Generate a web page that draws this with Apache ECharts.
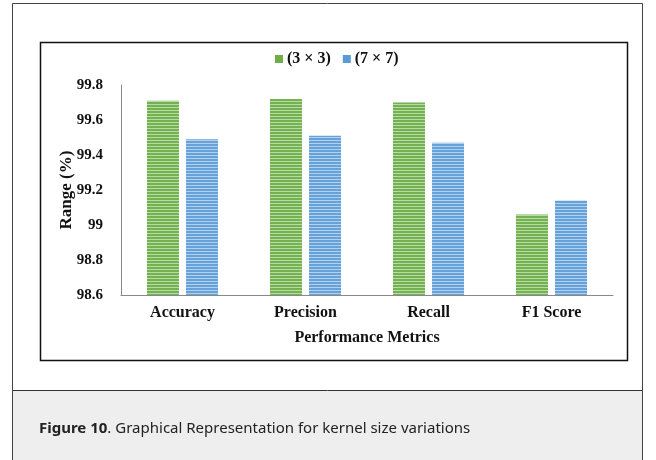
<!DOCTYPE html>
<html>
<head>
<meta charset="utf-8">
<script src="https://cdn.jsdelivr.net/npm/echarts@6/dist/echarts.min.js"></script>
<style>
  html, body { margin: 0; padding: 0; background: #ffffff; }
  #chart { width: 656px; height: 460px; }
</style>
</head>
<body>
<div id="chart"></div>
<script>
// Metrics compared for the two kernel sizes
const categories = ['Accuracy', 'Precision', 'Recall', 'F1 Score'];
const seriesNames = ['(3 × 3)', '(7 × 7)'];
const kernel3 = [99.71, 99.72, 99.70, 99.06];
const kernel7 = [99.49, 99.51, 99.47, 99.14];
const yTicks = [98.6, 98.8, 99, 99.2, 99.4, 99.6, 99.8];

// Horizontal-line fill used for the bars
function stripes(dark, light) {
  const c = document.createElement('canvas');
  c.width = 4; c.height = 3;
  const g = c.getContext('2d');
  g.fillStyle = light; g.fillRect(0, 0, 4, 3);
  g.fillStyle = dark; g.fillRect(0, 0, 4, 2);
  return { image: c, repeat: 'repeat' };
}

const serif = '"Liberation Serif", "Times New Roman", serif';
const sans = '"Noto Sans", "Open Sans", sans-serif';
const chart = echarts.init(document.getElementById('chart'), null, { renderer: 'canvas' });

chart.setOption({
  animation: false,
  backgroundColor: '#ffffff',
  graphic: [
    // caption band
    { type: 'rect', shape: { x: 12.5, y: 390.5, width: 630, height: 80 },
      style: { fill: '#eeeeee', stroke: '#333333', lineWidth: 1 }, z: 0 },
    // outer frame
    { type: 'polyline', shape: { points: [[12.5, 470], [12.5, 3.5], [642.5, 3.5], [642.5, 470]] },
      style: { fill: null, stroke: '#444444', lineWidth: 1 }, z: 1 },
    // chart frame
    { type: 'rect', shape: { x: 40.5, y: 42.5, width: 587, height: 318 },
      style: { fill: null, stroke: '#111111', lineWidth: 1.5 }, z: 1 },
    { type: 'text', left: 39, top: 421, z: 2,
      style: {
        text: '{b|Figure 10}{r|. Graphical Representation for kernel size variations}',
        rich: {
          b: { fontFamily: sans, fontWeight: 'bold', fontSize: 15, fill: '#222222' },
          r: { fontFamily: sans, fontSize: 15, fill: '#222222' }
        }
      }
    }
  ],
  legend: {
    left: 270, top: 46,
    itemWidth: 8, itemHeight: 8, itemGap: 12,
    icon: 'rect',
    textStyle: { fontFamily: serif, fontWeight: 'bold', fontSize: 16, color: '#111111', padding: [0, 0, 0, -1] },
    data: [
      { name: seriesNames[0], itemStyle: { color: '#70ad47' } },
      { name: seriesNames[1], itemStyle: { color: '#5b9bd5' } }
    ]
  },
  grid: { left: 121, right: 43, top: 85, bottom: 165, containLabel: false },
  xAxis: {
    type: 'category',
    data: categories,
    name: 'Performance Metrics',
    nameLocation: 'middle',
    nameGap: 35,
    nameMoveOverlap: false,
    nameTextStyle: { fontFamily: serif, fontWeight: 'bold', fontSize: 16, color: '#111111' },
    axisLine: { lineStyle: { color: '#888888', width: 1 } },
    axisTick: { show: false },
    axisLabel: { fontFamily: serif, fontWeight: 'bold', fontSize: 16, color: '#111111', margin: 10 }
  },
  yAxis: {
    type: 'value',
    min: yTicks[0],
    max: yTicks[yTicks.length - 1],
    interval: 0.2,
    name: 'Range (%)',
    nameLocation: 'middle',
    nameGap: 46,
    nameMoveOverlap: false,
    nameTextStyle: { fontFamily: serif, fontWeight: 'bold', fontSize: 17, color: '#111111' },
    axisLine: { show: true, lineStyle: { color: '#888888', width: 1 } },
    axisTick: { show: false },
    splitLine: { show: false },
    axisLabel: {
      fontFamily: serif, fontWeight: 'bold', fontSize: 15, color: '#111111', margin: 18,
      formatter: v => String(+v.toFixed(1))
    }
  },
  series: [
    {
      name: seriesNames[0], type: 'bar', data: kernel3,
      barWidth: 32, barGap: '22%',
      itemStyle: { color: stripes('#74b150', '#b9dba6') }
    },
    {
      name: seriesNames[1], type: 'bar', data: kernel7,
      barWidth: 32,
      itemStyle: { color: stripes('#65a2da', '#b3d1ee') }
    }
  ]
});
</script>
</body>
</html>
